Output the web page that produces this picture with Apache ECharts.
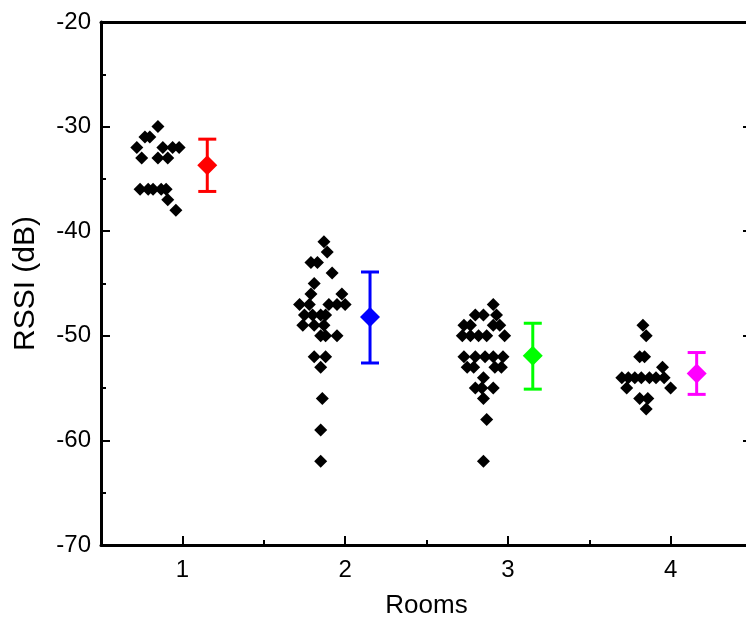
<!DOCTYPE html>
<html>
<head>
<meta charset="utf-8">
<script src="https://cdn.jsdelivr.net/npm/echarts@6/dist/echarts.min.js"></script>
<style>
  html, body { margin: 0; padding: 0; background: #fff; }
  #chart { width: 746px; height: 630px; }
</style>
</head>
<body>
<div id="chart"></div>
<script>
// raw RSSI readings per room, [x position (jittered left of room), dB]
var room1Points = [[0.85,-30],[0.80,-31],[0.77,-31],[0.72,-32],[0.88,-32],[0.94,-32],[0.98,-32],
  [0.75,-33],[0.85,-33],[0.91,-33],[0.74,-36],[0.79,-36],[0.82,-36],[0.87,-36],[0.90,-36],
  [0.91,-37],[0.96,-38]];
var room2Points = [[1.87,-41],[1.89,-42],[1.79,-43],[1.83,-43],[1.92,-44],[1.81,-45],[1.79,-46],
  [1.98,-46],[1.72,-47],[1.78,-47],[1.90,-47],[1.95,-47],[2.00,-47],[1.75,-48],[1.80,-48],
  [1.85,-48],[1.88,-48],[1.74,-49],[1.81,-49],[1.87,-49],[1.85,-50],[1.88,-50],[1.95,-50],
  [1.81,-52],[1.88,-52],[1.85,-53],[1.86,-56],[1.85,-59],[1.85,-62]];
var room3Points = [[2.91,-47],[2.80,-48],[2.85,-48],[2.93,-48],[2.73,-49],[2.77,-49],[2.91,-49],
  [2.95,-49],[2.72,-50],[2.77,-50],[2.82,-50],[2.87,-50],[2.98,-50],[2.73,-52],[2.80,-52],
  [2.86,-52],[2.91,-52],[2.97,-52],[2.75,-53],[2.79,-53],[2.92,-53],[2.96,-53],[2.85,-54],
  [2.80,-55],[2.84,-55],[2.91,-55],[2.85,-56],[2.87,-58],[2.85,-62]];
var room4Points = [[3.83,-49],[3.85,-50],[3.81,-52],[3.84,-52],[3.95,-53],[3.70,-54],[3.74,-54],
  [3.78,-54],[3.82,-54],[3.87,-54],[3.91,-54],[3.96,-54],[3.73,-55],[4.00,-55],[3.81,-56],
  [3.86,-56],[3.85,-57]];

// mean +/- error per room (drawn right of each room)
var meanX = [1.153, 2.153, 3.153, 4.16];
var meanY = [-33.7, -48.2, -51.9, -53.6];
var errTop = [-31.2, -43.9, -48.8, -51.6];
var errBottom = [-36.2, -52.6, -55.1, -55.6];
var meanColors = ['#ff0000', '#0000ff', '#00ff00', '#ff00ff'];

var roomTicks = [1, 2, 3, 4];
var roomMinorTicks = [1.5, 2.5, 3.5];

var FONT = "'Liberation Sans', Arial, sans-serif";
var chart = echarts.init(document.getElementById('chart'));

var errData = meanX.map(function (x, i) { return [x, errTop[i], errBottom[i], i]; });
var meanData = meanX.map(function (x, i) {
  return { value: [x, meanY[i]], itemStyle: { color: meanColors[i] } };
});

var allPoints = room1Points.concat(room2Points, room3Points, room4Points);

var option = {
  animation: false,
  // plot frame runs a little past the right edge of the picture
  grid: { left: 101, width: 651, top: 22, bottom: 85, outerBoundsMode: 'none' },
  xAxis: [
    {
      type: 'value', min: 0.5, max: 4.5, position: 'bottom',
      name: 'Rooms', nameLocation: 'middle', nameGap: 48,
      nameTextStyle: { fontSize: 26, color: '#000', fontFamily: FONT },
      axisLine: { lineStyle: { color: '#000', width: 3 } },
      axisTick: { inside: true, length: 9, customValues: roomTicks, lineStyle: { color: '#000', width: 2 } },
      axisLabel: { customValues: roomTicks, fontSize: 24, color: '#000', fontFamily: FONT, margin: 13 },
      splitLine: { show: false }
    },
    {
      type: 'value', min: 0.5, max: 4.5, position: 'bottom',
      axisLine: { show: false },
      axisTick: { inside: true, length: 5, customValues: roomMinorTicks, lineStyle: { color: '#000', width: 2 } },
      axisLabel: { show: false },
      splitLine: { show: false }
    },
    {
      type: 'value', min: 0.5, max: 4.5, position: 'top',
      axisLine: { lineStyle: { color: '#000', width: 3 } },
      axisTick: { show: false },
      axisLabel: { show: false },
      splitLine: { show: false }
    }
  ],
  yAxis: [
    {
      type: 'value', min: -70, max: -20, interval: 10, position: 'left',
      name: 'RSSI (dB)', nameLocation: 'middle', nameGap: 60,
      nameTextStyle: { fontSize: 30, color: '#000', fontFamily: FONT },
      axisLine: { lineStyle: { color: '#000', width: 3 } },
      axisTick: { inside: true, length: 9, lineStyle: { color: '#000', width: 2 } },
      minorTick: { show: true, splitNumber: 2, length: 5, lineStyle: { color: '#000', width: 2 } },
      axisLabel: { fontSize: 24, color: '#000', fontFamily: FONT, margin: 10 },
      splitLine: { show: false }
    },
    {
      type: 'value', min: -70, max: -20, interval: 10, position: 'right',
      axisLine: { lineStyle: { color: '#000', width: 3 } },
      axisTick: { inside: true, length: 9, lineStyle: { color: '#000', width: 2 } },
      axisLabel: { show: false },
      splitLine: { show: false }
    }
  ],
  series: [
    {
      type: 'scatter', xAxisIndex: 0, yAxisIndex: 0,
      symbol: 'diamond', symbolSize: 13,
      itemStyle: { color: '#000', opacity: 1 },
      data: allPoints
    },
    {
      type: 'custom', xAxisIndex: 0, yAxisIndex: 0,
      data: errData,
      encode: { x: 0, y: [1, 2] },
      renderItem: function (params, api) {
        var top = api.coord([api.value(0), api.value(1)]);
        var bot = api.coord([api.value(0), api.value(2)]);
        var color = meanColors[api.value(3)];
        var half = 9;
        var style = { stroke: color, lineWidth: 3 };
        return {
          type: 'group',
          children: [
            { type: 'line', shape: { x1: top[0], y1: top[1], x2: bot[0], y2: bot[1] }, style: style },
            { type: 'line', shape: { x1: top[0] - half, y1: top[1], x2: top[0] + half, y2: top[1] }, style: style },
            { type: 'line', shape: { x1: bot[0] - half, y1: bot[1], x2: bot[0] + half, y2: bot[1] }, style: style }
          ]
        };
      },
      z: 3
    },
    {
      type: 'scatter', xAxisIndex: 0, yAxisIndex: 0,
      symbol: 'diamond', symbolSize: 20,
      itemStyle: { opacity: 1 },
      data: meanData,
      z: 4
    }
  ]
};

chart.setOption(option);
</script>
</body>
</html>
